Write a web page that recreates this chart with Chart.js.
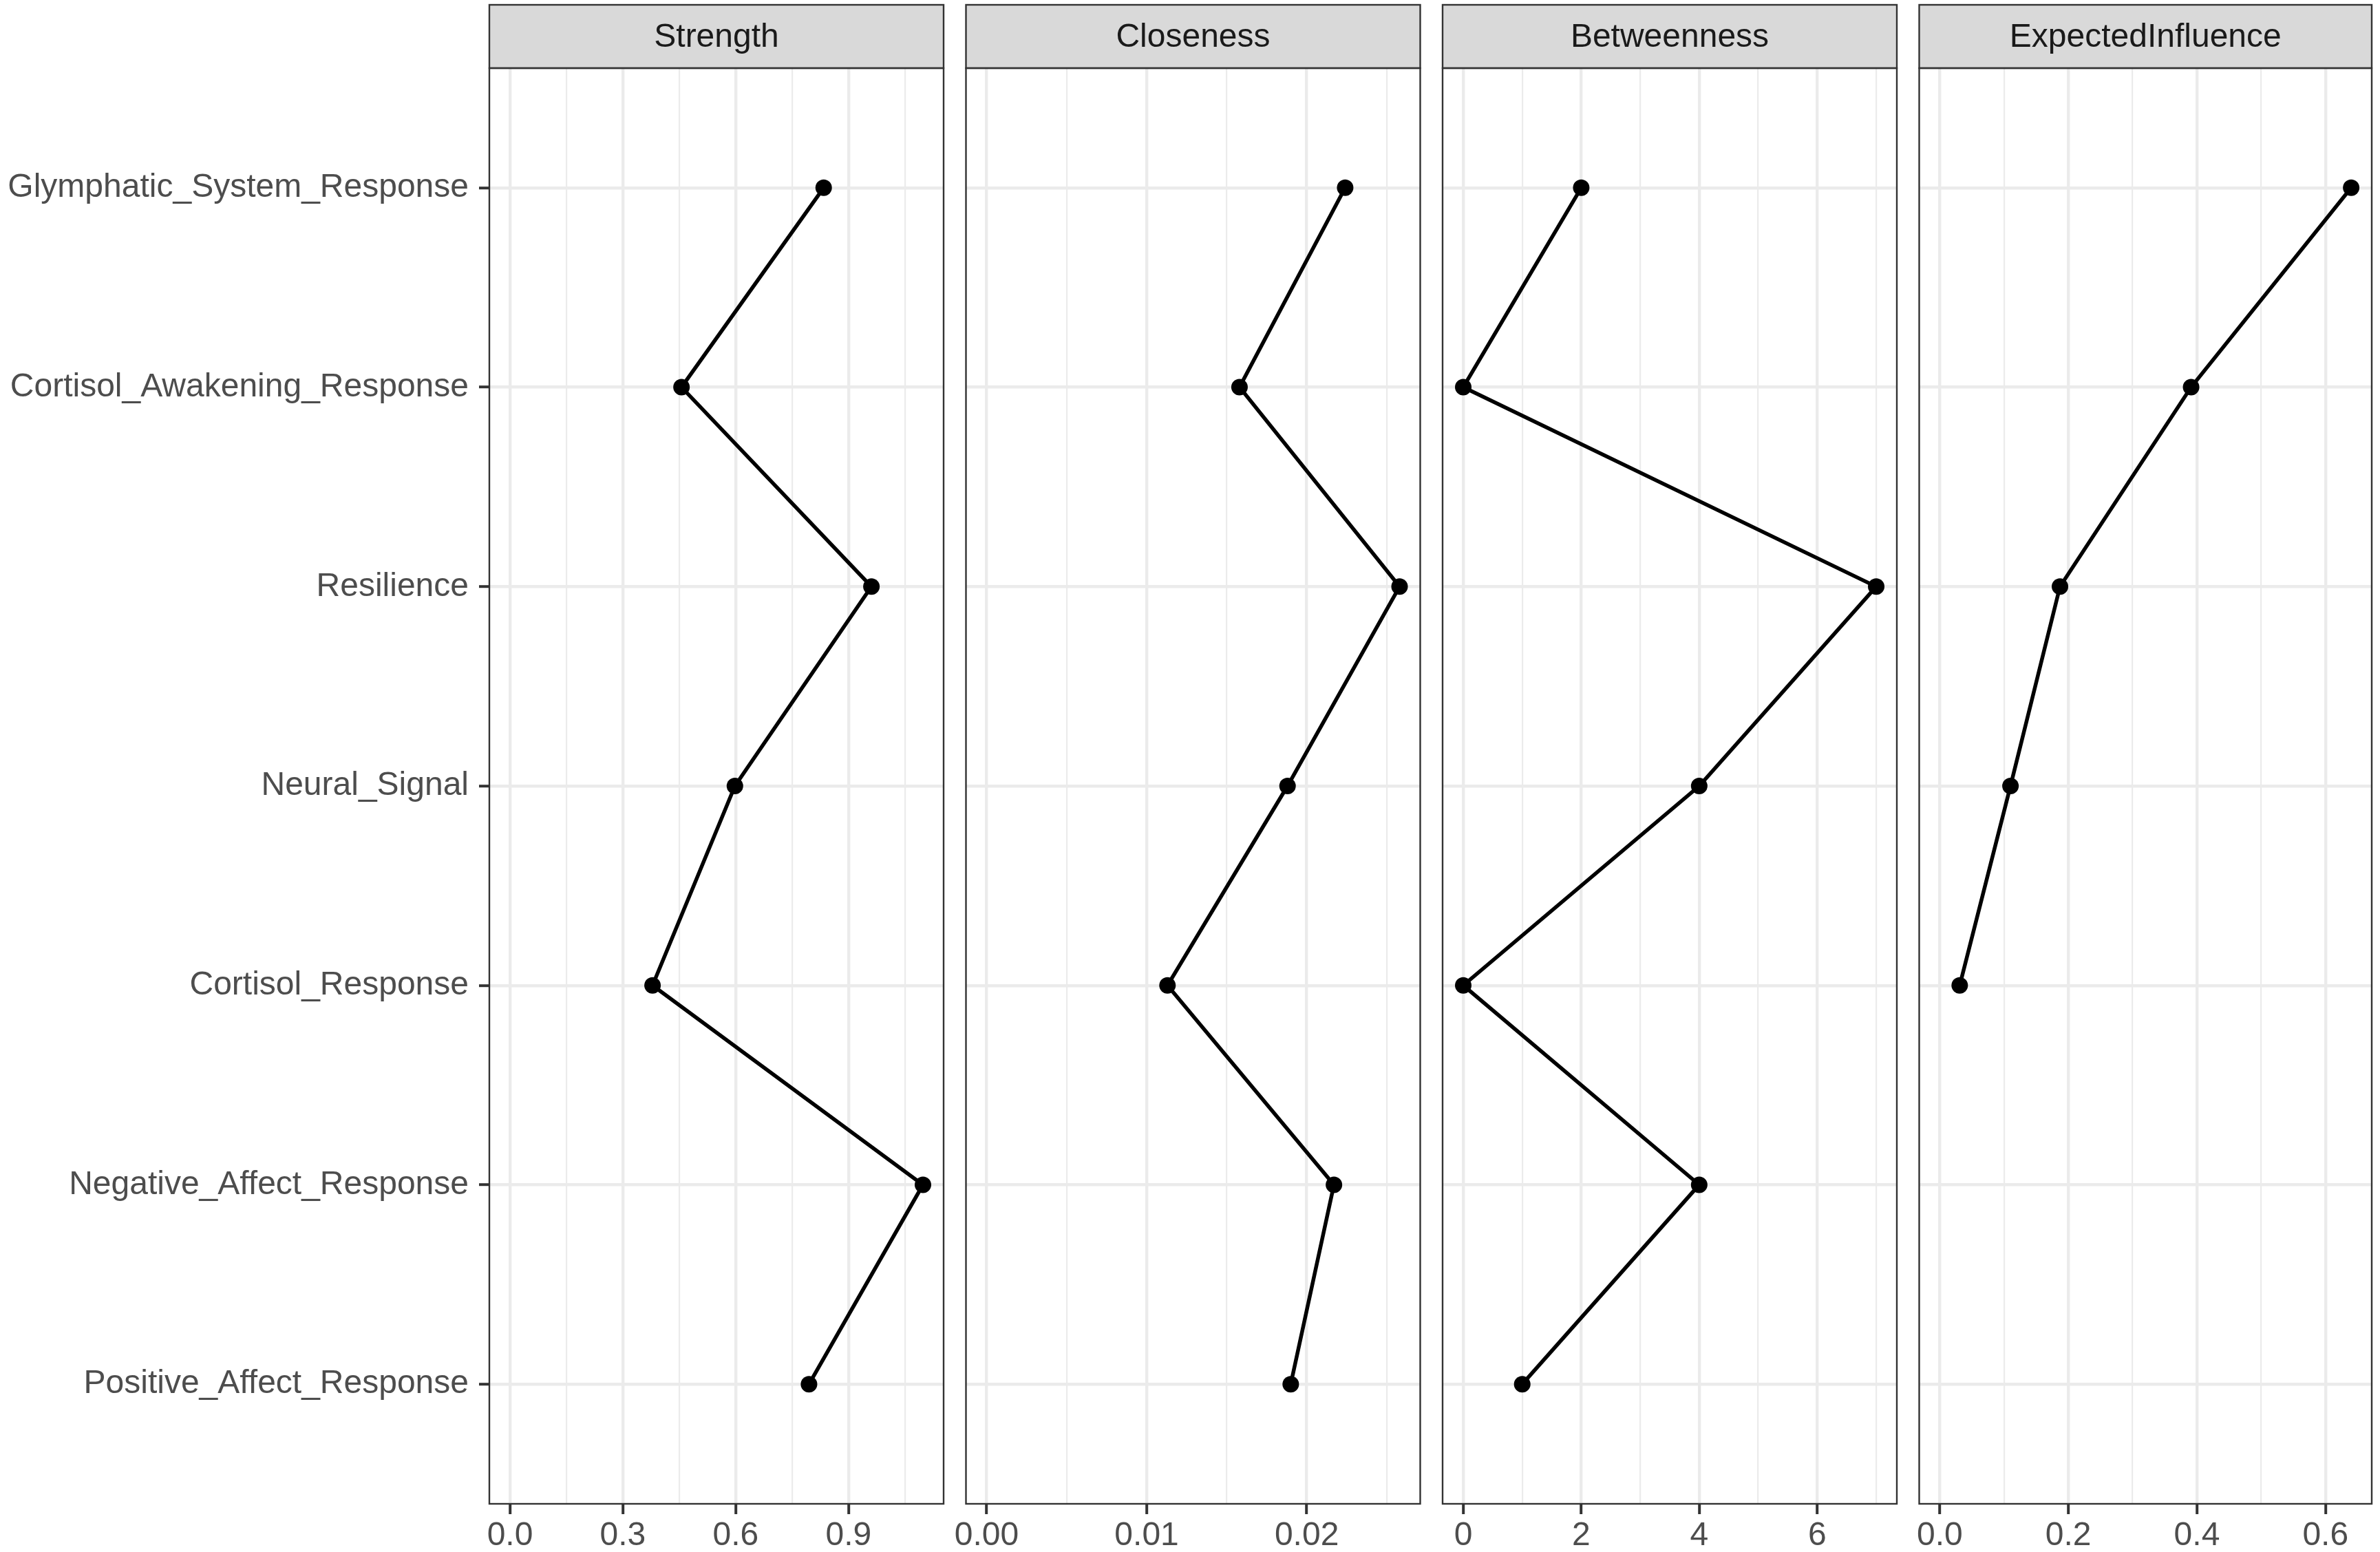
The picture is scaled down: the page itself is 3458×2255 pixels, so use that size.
<!DOCTYPE html>
<html>
<head>
<meta charset="utf-8">
<script src="https://cdn.jsdelivr.net/npm/chart.js@4/dist/chart.umd.min.js"></script>
<style>
  html, body { margin: 0; padding: 0; background: #ffffff; }
  #wrap { position: relative; width: 3458px; height: 2255px; overflow: hidden; }
  #wrap canvas { position: absolute; left: 0; top: 0; }
</style>
</head>
<body>
<div id="wrap"></div>
<script>
// Nodes, top to bottom
const categories = [
  'Glymphatic_System_Response',
  'Cortisol_Awakening_Response',
  'Resilience',
  'Neural_Signal',
  'Cortisol_Response',
  'Negative_Affect_Response',
  'Positive_Affect_Response'
];

// Centrality indices per node
const strength          = [0.834, 0.456, 0.961, 0.598, 0.379, 1.098, 0.795];
const closeness         = [0.0224, 0.0158, 0.0258, 0.0188, 0.0113, 0.0217, 0.0190];
const betweenness       = [2, 0, 7, 4, 0, 4, 1];
const expectedInfluence = [0.640, 0.391, 0.187, 0.110, 0.031, null, null];

const panelTitles = ['Strength', 'Closeness', 'Betweenness', 'ExpectedInfluence'];

// Labelled x-axis breaks per panel
const strengthTicks    = ['0.0', '0.3', '0.6', '0.9'];
const closenessTicks   = ['0.00', '0.01', '0.02'];
const betweennessTicks = ['0', '2', '4', '6'];
const influenceTicks   = ['0.0', '0.2', '0.4', '0.6'];

const panelValues = [strength, closeness, betweenness, expectedInfluence];
const panelTicks  = [strengthTicks, closenessTicks, betweennessTicks, influenceTicks];

// Page geometry
const W = 3458, H = 2255;
const STRIP_TOP = 7, PANEL_TOP = 99, PANEL_BOTTOM = 2185;
const FIRST_LEFT = 711, PANEL_W = 660, GAP = 32.5;

const TEXT_COLOR = '#4D4D4D';
const FRAME_COLOR = '#333333';
const GRID_COLOR = '#EBEBEB';
const FONT = '"Liberation Sans", Arial, Helvetica, sans-serif';

Chart.defaults.font.family = FONT;
Chart.defaults.font.size = 48;
Chart.defaults.color = TEXT_COLOR;

// Major breaks carry labels; minor breaks sit halfway between them
function buildBreaks(labels, min, max) {
  const major = labels.map(Number);
  const step = major[1] - major[0];
  const out = major.map((v, i) => ({ value: v, text: labels[i], minor: false }));
  const cands = [major[0] - step / 2].concat(major.map(v => v + step / 2));
  cands.forEach(v => {
    if (v >= min && v <= max) out.push({ value: v, text: '', minor: true });
  });
  out.sort((a, b) => a.value - b.value);
  return out;
}

// Strip on top and frame around each facet
const facetFrame = {
  id: 'facetFrame',
  afterDraw(chart, args, opts) {
    const { ctx, chartArea: a } = chart;
    ctx.save();
    ctx.fillStyle = '#D9D9D9';
    ctx.fillRect(a.left, STRIP_TOP, a.width, PANEL_TOP - STRIP_TOP);
    ctx.strokeStyle = FRAME_COLOR;
    ctx.lineWidth = 2.4;
    ctx.strokeRect(a.left, STRIP_TOP, a.width, PANEL_TOP - STRIP_TOP);
    ctx.strokeRect(a.left, a.top, a.width, a.height);
    ctx.fillStyle = '#1A1A1A';
    ctx.font = '48px ' + FONT;
    ctx.textAlign = 'center';
    ctx.textBaseline = 'middle';
    ctx.fillText(opts.title, (a.left + a.right) / 2, (STRIP_TOP + PANEL_TOP) / 2 + 2);
    ctx.restore();
  }
};

const wrap = document.getElementById('wrap');

panelValues.forEach((values, p) => {
  const canvas = document.createElement('canvas');
  canvas.width = W; canvas.height = H;
  canvas.style.width = W + 'px'; canvas.style.height = H + 'px';
  wrap.appendChild(canvas);

  const left = FIRST_LEFT + p * (PANEL_W + GAP);
  const right = left + PANEL_W;
  const present = values.filter(v => v !== null);
  const vmax = Math.max(...present);
  const xMin = -0.05 * vmax, xMax = 1.05 * vmax;
  const breaks = buildBreaks(panelTicks[p], xMin, xMax);
  const first = p === 0;

  const points = values
    .map((v, i) => ({ x: v, y: i }))
    .filter(pt => pt.x !== null);

  new Chart(canvas, {
    type: 'scatter',
    data: {
      datasets: [{
        data: points,
        showLine: true,
        borderColor: '#000000',
        borderWidth: 5.5,
        pointRadius: 12,
        pointBackgroundColor: '#000000',
        pointBorderWidth: 0,
        tension: 0
      }]
    },
    options: {
      responsive: false,
      devicePixelRatio: 1,
      animation: false,
      events: [],
      layout: {
        padding: {
          left: first ? 0 : left,
          right: W - right,
          top: PANEL_TOP,
          bottom: 0
        }
      },
      plugins: {
        legend: { display: false },
        tooltip: { enabled: false },
        facetFrame: { title: panelTitles[p] }
      },
      scales: {
        x: {
          type: 'linear',
          position: 'bottom',
          min: xMin,
          max: xMax,
          border: { display: false },
          afterBuildTicks: s => { s.ticks = breaks.map(b => ({ ...b })); },
          afterFit: s => { s.height = H - PANEL_BOTTOM; },
          grid: {
            color: GRID_COLOR,
            lineWidth: c => (c.tick && c.tick.minor ? 2.2 : 4.4),
            drawTicks: true,
            tickLength: 15,
            tickWidth: 4,
            tickColor: c => (c.tick && c.tick.minor ? 'rgba(0,0,0,0)' : FRAME_COLOR)
          },
          ticks: {
            autoSkip: false,
            maxRotation: 0,
            padding: 3,
            color: TEXT_COLOR,
            font: { size: 48 },
            callback: (v, i, t) => t[i].text
          }
        },
        y: {
          type: 'linear',
          position: 'left',
          reverse: true,
          min: -0.6,
          max: categories.length - 1 + 0.6,
          border: { display: false },
          afterBuildTicks: s => { s.ticks = categories.map((c, i) => ({ value: i })); },
          afterFit: s => { s.width = first ? left : 0; },
          grid: {
            color: GRID_COLOR,
            lineWidth: 4.4,
            drawTicks: first,
            tickLength: 15,
            tickWidth: 4,
            tickColor: FRAME_COLOR
          },
          ticks: {
            display: first,
            autoSkip: false,
            padding: 15,
            color: TEXT_COLOR,
            font: { size: 48 },
            callback: (v, i) => categories[i]
          }
        }
      }
    },
    plugins: [facetFrame]
  });
});
</script>
</body>
</html>
